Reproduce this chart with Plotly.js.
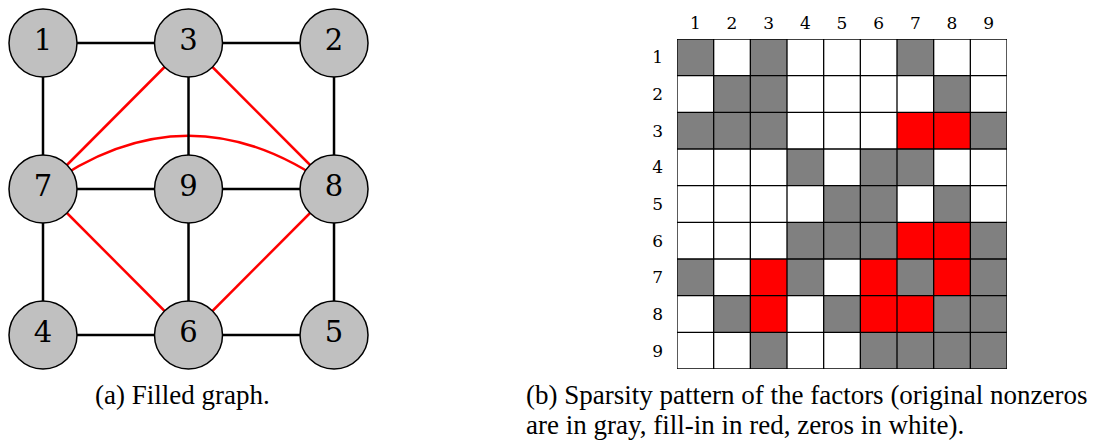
<!DOCTYPE html>
<html>
<head>
<meta charset="utf-8">
<script src="https://cdn.plot.ly/plotly-3.0.1.min.js"></script>
<style>
  html, body { margin: 0; padding: 0; background: #ffffff; }
  #chart { width: 1118px; height: 441px; }
</style>
</head>
<body>
<div id="chart"></div>
<script>
// graph nodes, laid out on a 3x3 grid (column, row)
const nodeIds = ['1', '3', '2', '7', '9', '8', '4', '6', '5'];
const nodeCol = [0, 1, 2, 0, 1, 2, 0, 1, 2];
const nodeRow = [0, 0, 0, 1, 1, 1, 2, 2, 2];

// original edges (black) and fill-in edges (red)
const blackEdges = [
  ['1', '3'], ['3', '2'], ['1', '7'], ['3', '9'], ['2', '8'], ['7', '9'],
  ['9', '8'], ['7', '4'], ['9', '6'], ['8', '5'], ['4', '6'], ['6', '5']
];
const redEdges = [['3', '7'], ['3', '8'], ['7', '6'], ['8', '6']];
const redArcs = [['7', '8']];

// sparsity pattern: 0 = zero, 1 = original nonzero, 2 = fill-in
const matrixLabels = ['1', '2', '3', '4', '5', '6', '7', '8', '9'];
const pattern = [
  [1, 0, 1, 0, 0, 0, 1, 0, 0],
  [0, 1, 1, 0, 0, 0, 0, 1, 0],
  [1, 1, 1, 0, 0, 0, 2, 2, 1],
  [0, 0, 0, 1, 0, 1, 1, 0, 0],
  [0, 0, 0, 0, 1, 1, 0, 1, 0],
  [0, 0, 0, 1, 1, 1, 2, 2, 1],
  [1, 0, 2, 1, 0, 2, 1, 2, 1],
  [0, 1, 2, 0, 1, 2, 2, 1, 1],
  [0, 0, 1, 0, 0, 1, 1, 1, 1]
];

const captionA = '(a) Filled graph.';
const captionB = ['(b) Sparsity pattern of the factors (original nonzeros',
                  'are in gray, fill-in in red, zeros in white).'];

const serif = "'DejaVu Serif'";
const times = "'Liberation Serif'";

const pos = id => {
  const i = nodeIds.indexOf(id);
  return [nodeCol[i], nodeRow[i]];
};

const edgeTrace = (edges, color, width) => {
  const x = [], y = [];
  edges.forEach(([a, b]) => {
    const pa = pos(a), pb = pos(b);
    x.push(pa[0], pb[0], null);
    y.push(pa[1], pb[1], null);
  });
  return {
    x, y, xaxis: 'x', yaxis: 'y', type: 'scatter', mode: 'lines',
    line: { color, width }, hoverinfo: 'skip', showlegend: false
  };
};

const nodes = {
  x: nodeCol, y: nodeRow, text: nodeIds, xaxis: 'x', yaxis: 'y',
  type: 'scatter', mode: 'markers+text', textposition: 'middle center',
  marker: { size: 68, color: '#c0c0c0', line: { color: '#000', width: 1.5 } },
  textfont: { family: serif, size: 29, color: '#000' },
  hoverinfo: 'skip', showlegend: false
};

const heat = {
  z: pattern, x: matrixLabels.map(Number), y: matrixLabels.map(Number),
  xaxis: 'x2', yaxis: 'y2', type: 'heatmap', zmin: 0, zmax: 2,
  colorscale: [[0, '#ffffff'], [0.333, '#ffffff'], [0.333, '#808080'],
               [0.667, '#808080'], [0.667, '#ff0000'], [1, '#ff0000']],
  showscale: false, hoverinfo: 'skip'
};

// bent fill-in edge 7-8
const arcBend = 0.73;
const shapes = redArcs.map(([a, b]) => {
  const pa = pos(a), pb = pos(b);
  const cx = (pa[0] + pb[0]) / 2, cy = (pa[1] + pb[1]) / 2 - arcBend;
  return {
    type: 'path', xref: 'x', yref: 'y', layer: 'below',
    path: `M ${pa[0]} ${pa[1]} Q ${cx} ${cy} ${pb[0]} ${pb[1]}`,
    line: { color: '#ff0000', width: 2.5 }
  };
});

// cell grid of the matrix
const n = matrixLabels.length;
for (let k = 0; k <= n; k++) {
  shapes.push({ type: 'line', xref: 'x2', yref: 'y2', layer: 'above',
    x0: k + 0.5, x1: k + 0.5, y0: 0.5, y1: n + 0.5, line: { color: '#000', width: 1.3 } });
  shapes.push({ type: 'line', xref: 'x2', yref: 'y2', layer: 'above',
    x0: 0.5, x1: n + 0.5, y0: k + 0.5, y1: k + 0.5, line: { color: '#000', width: 1.3 } });
}

const captionFont = { family: times, size: 27, color: '#000' };

const layout = {
  width: 1118, height: 441,
  margin: { t: 0, r: 0, b: 0, l: 0 },
  paper_bgcolor: '#ffffff', plot_bgcolor: 'rgba(0,0,0,0)',
  xaxis: { domain: [0, 380 / 1118], range: [-0.2955, 2.316], visible: false, fixedrange: true },
  yaxis: { domain: [0, 1], range: [2.726, -0.2945], visible: false, fixedrange: true },
  xaxis2: {
    domain: [677 / 1118, 1007 / 1118], range: [0.5, n + 0.5], anchor: 'y2', side: 'top',
    tickvals: matrixLabels.map(Number), ticktext: matrixLabels, ticks: '',
    ticklabelstandoff: 6, showgrid: false, zeroline: false, showline: false,
    tickfont: { family: serif, size: 17, color: '#000' }
  },
  yaxis2: {
    domain: [72 / 441, 402 / 441], range: [n + 0.5, 0.5], anchor: 'x2',
    tickvals: matrixLabels.map(Number), ticktext: matrixLabels, ticks: '',
    ticklabelstandoff: 13, showgrid: false, zeroline: false, showline: false,
    tickfont: { family: serif, size: 17, color: '#000' }
  },
  shapes,
  annotations: [
    { text: captionA, xref: 'paper', yref: 'paper', x: 182 / 1118, y: 46 / 441,
      xanchor: 'center', yanchor: 'middle', showarrow: false, font: captionFont },
    { text: captionB[0], xref: 'paper', yref: 'paper', x: 524 / 1118, y: 46 / 441,
      xanchor: 'left', yanchor: 'middle', showarrow: false, font: captionFont },
    { text: captionB[1], xref: 'paper', yref: 'paper', x: 524 / 1118, y: 16 / 441,
      xanchor: 'left', yanchor: 'middle', showarrow: false, font: captionFont }
  ]
};

Plotly.newPlot('chart', [
  edgeTrace(blackEdges, '#000000', 2.5),
  edgeTrace(redEdges, '#ff0000', 2.5),
  nodes,
  heat
], layout, { staticPlot: true });
</script>
</body>
</html>
